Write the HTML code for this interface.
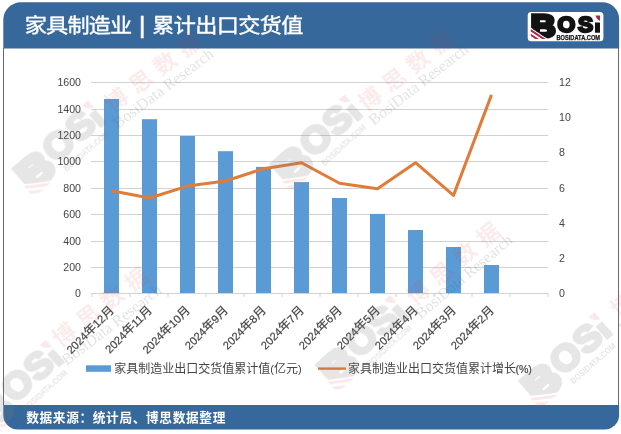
<!DOCTYPE html>
<html lang="zh-CN"><head><meta charset="utf-8"><title>家具制造业 | 累计出口交货值</title>
<style>html,body{margin:0;padding:0;background:#fff;}body{width:621px;height:434px;overflow:hidden;}svg{display:block;}text{font-family:"Liberation Sans","Noto Sans CJK SC",sans-serif;}.cj{font-family:"Liberation Sans","Noto Sans CJK SC",sans-serif;}.sf{font-family:"Liberation Serif","Noto Serif CJK SC",serif;}.ax{font-size:10.6px;fill:#454545;}.lg{font-size:12px;fill:#454545;}</style></head><body>
<svg width="621" height="434" viewBox="0 0 621 434">
<rect x="0" y="0" width="621" height="434" fill="#ffffff"/>
<path d="M3.5 48 V405 M618.5 48 V405" stroke="#666b70" stroke-width="1" fill="none"/>
<path d="M3.3 48.4 V19.8 A17.5 17.5 0 0 1 20.8 2.3 H602.6 A16.5 16.5 0 0 1 619.1 18.8 V48.4 Z" fill="#36689c"/>
<path d="M3.3 405 H619.1 V415 A14.5 14.5 0 0 1 604.6 429.5 H17.8 A14.5 14.5 0 0 1 3.3 415 Z" fill="#36689c"/>
<g fill="#ffffff" stroke="#ffffff" stroke-width="0.4" font-size="21.33px">
<text transform="translate(24.8 33) scale(1.04 0.935)" class="cj" letter-spacing="-0.82">家具制造业</text>
<text transform="translate(142.2 32.6)" text-anchor="middle" font-size="24.5px" stroke-width="0.7">|</text>
<text transform="translate(152.3 33) scale(1.04 0.935)" class="cj" letter-spacing="-0.64">累计出口交货值</text>
</g>
<text x="26.2" y="422.3" font-size="12.7px" letter-spacing="0.63" font-weight="bold" fill="#ffffff" class="cj">数据来源：统计局、博思数据整理</text>
<g id="logo" transform="translate(527.5 11.5)">
<rect x="0.2" y="0.5" width="75.7" height="29.2" rx="3.5" fill="#ffffff"/>
<clipPath id="c0"><path d="M-5 -8 H66.5 V11.1 H82 V40 H21.7 V28.5 L-5 10.6 Z"/></clipPath>
<g clip-path="url(#c0)"><g fill="#121212" stroke="#121212" stroke-linejoin="miter" font-weight="bold">
<text transform="translate(3.30 25.76) scale(1.11 1)" font-size="31.0px" stroke-width="3.60">B</text>
<text transform="translate(29.90 20.10) scale(1.06 1)" font-size="21.5px" stroke-width="2.40">O</text>
<text transform="translate(50.48 20.10) scale(1.05 1)" font-size="21.5px" stroke-width="2.40">S</text>
<text transform="translate(67.02 20.70) scale(1.29 1)" font-size="16.7px" stroke-width="1.60">i</text>
<text x="29" y="28.1" font-size="6.5px" stroke-width="0.25" textLength="43.5" lengthAdjust="spacingAndGlyphs">BOSIDATA.COM</text>
</g></g>
<path d="M3.3 17.6 L18.25 27.6 H14.66 L3.3 20 Z M3.3 22.2 L11.37 27.6 H7.78 L3.3 24.6 Z" fill="#b02848"/>
<path d="M67.8 4 H72.5 V9.4 Q69 8 67.8 4 Z" fill="#b02848"/>
</g>
<line x1="91.0" y1="267.50" x2="548.4" y2="267.50" stroke="#d2d2d2" stroke-width="1"/>
<line x1="91.0" y1="241.50" x2="548.4" y2="241.50" stroke="#d2d2d2" stroke-width="1"/>
<line x1="91.0" y1="214.50" x2="548.4" y2="214.50" stroke="#d2d2d2" stroke-width="1"/>
<line x1="91.0" y1="188.50" x2="548.4" y2="188.50" stroke="#d2d2d2" stroke-width="1"/>
<line x1="91.0" y1="161.50" x2="548.4" y2="161.50" stroke="#d2d2d2" stroke-width="1"/>
<line x1="91.0" y1="135.50" x2="548.4" y2="135.50" stroke="#d2d2d2" stroke-width="1"/>
<line x1="91.0" y1="109.50" x2="548.4" y2="109.50" stroke="#d2d2d2" stroke-width="1"/>
<line x1="91.0" y1="82.50" x2="548.4" y2="82.50" stroke="#d2d2d2" stroke-width="1"/>
<rect x="104.00" y="99.00" width="15.00" height="194.50" fill="#5b9bd5"/>
<rect x="142.00" y="119.20" width="15.00" height="174.30" fill="#5b9bd5"/>
<rect x="180.00" y="136.00" width="15.00" height="157.50" fill="#5b9bd5"/>
<rect x="218.00" y="151.20" width="15.00" height="142.30" fill="#5b9bd5"/>
<rect x="256.00" y="166.90" width="15.00" height="126.60" fill="#5b9bd5"/>
<rect x="294.00" y="182.10" width="15.00" height="111.40" fill="#5b9bd5"/>
<rect x="332.00" y="198.00" width="15.00" height="95.50" fill="#5b9bd5"/>
<rect x="370.00" y="213.90" width="15.00" height="79.60" fill="#5b9bd5"/>
<rect x="408.00" y="230.00" width="15.00" height="63.50" fill="#5b9bd5"/>
<rect x="446.00" y="247.00" width="15.00" height="46.50" fill="#5b9bd5"/>
<rect x="484.00" y="265.00" width="15.00" height="28.50" fill="#5b9bd5"/>
<line x1="91.0" y1="293.50" x2="548.4" y2="293.50" stroke="#d2d2d2" stroke-width="1"/>
<line x1="92.00" y1="293.50" x2="92.00" y2="297.00" stroke="#d2d2d2" stroke-width="1"/>
<line x1="130.00" y1="293.50" x2="130.00" y2="297.00" stroke="#d2d2d2" stroke-width="1"/>
<line x1="168.00" y1="293.50" x2="168.00" y2="297.00" stroke="#d2d2d2" stroke-width="1"/>
<line x1="206.00" y1="293.50" x2="206.00" y2="297.00" stroke="#d2d2d2" stroke-width="1"/>
<line x1="244.00" y1="293.50" x2="244.00" y2="297.00" stroke="#d2d2d2" stroke-width="1"/>
<line x1="282.00" y1="293.50" x2="282.00" y2="297.00" stroke="#d2d2d2" stroke-width="1"/>
<line x1="320.00" y1="293.50" x2="320.00" y2="297.00" stroke="#d2d2d2" stroke-width="1"/>
<line x1="358.00" y1="293.50" x2="358.00" y2="297.00" stroke="#d2d2d2" stroke-width="1"/>
<line x1="396.00" y1="293.50" x2="396.00" y2="297.00" stroke="#d2d2d2" stroke-width="1"/>
<line x1="434.00" y1="293.50" x2="434.00" y2="297.00" stroke="#d2d2d2" stroke-width="1"/>
<line x1="472.00" y1="293.50" x2="472.00" y2="297.00" stroke="#d2d2d2" stroke-width="1"/>
<line x1="510.00" y1="293.50" x2="510.00" y2="297.00" stroke="#d2d2d2" stroke-width="1"/>
<line x1="548.00" y1="293.50" x2="548.00" y2="297.00" stroke="#d2d2d2" stroke-width="1"/>
<polyline points="111.50,190.80 149.50,198.00 187.50,186.10 225.50,181.00 263.50,168.70 301.50,162.80 339.50,183.20 377.50,188.70 415.50,162.70 453.50,195.40 491.50,94.90" fill="none" stroke="#e07c39" stroke-width="3" stroke-linejoin="round" stroke-linecap="butt"/>
<text x="81" y="297.40" text-anchor="end" class="ax">0</text>
<text x="81" y="271.01" text-anchor="end" class="ax">200</text>
<text x="81" y="244.62" text-anchor="end" class="ax">400</text>
<text x="81" y="218.24" text-anchor="end" class="ax">600</text>
<text x="81" y="191.85" text-anchor="end" class="ax">800</text>
<text x="81" y="165.46" text-anchor="end" class="ax">1000</text>
<text x="81" y="139.08" text-anchor="end" class="ax">1200</text>
<text x="81" y="112.69" text-anchor="end" class="ax">1400</text>
<text x="81" y="86.30" text-anchor="end" class="ax">1600</text>
<text x="559" y="297.20" class="ax">0</text>
<text x="559" y="262.02" class="ax">2</text>
<text x="559" y="226.83" class="ax">4</text>
<text x="559" y="191.65" class="ax">6</text>
<text x="559" y="156.47" class="ax">8</text>
<text x="559" y="121.28" class="ax">10</text>
<text x="559" y="86.10" class="ax">12</text>
<text transform="translate(114.70 311.00) rotate(-45)" text-anchor="end" fill="#454545" stroke="#454545" stroke-width="0.2"><tspan font-size="11.2px">2024</tspan><tspan font-size="12.1px" class="cj">年</tspan><tspan font-size="11.2px">12</tspan><tspan font-size="12.1px" class="cj">月</tspan></text>
<text transform="translate(152.70 311.00) rotate(-45)" text-anchor="end" fill="#454545" stroke="#454545" stroke-width="0.2"><tspan font-size="11.2px">2024</tspan><tspan font-size="12.1px" class="cj">年</tspan><tspan font-size="11.2px">11</tspan><tspan font-size="12.1px" class="cj">月</tspan></text>
<text transform="translate(190.70 311.00) rotate(-45)" text-anchor="end" fill="#454545" stroke="#454545" stroke-width="0.2"><tspan font-size="11.2px">2024</tspan><tspan font-size="12.1px" class="cj">年</tspan><tspan font-size="11.2px">10</tspan><tspan font-size="12.1px" class="cj">月</tspan></text>
<text transform="translate(228.70 311.00) rotate(-45)" text-anchor="end" fill="#454545" stroke="#454545" stroke-width="0.2"><tspan font-size="11.2px">2024</tspan><tspan font-size="12.1px" class="cj">年</tspan><tspan font-size="11.2px">9</tspan><tspan font-size="12.1px" class="cj">月</tspan></text>
<text transform="translate(266.70 311.00) rotate(-45)" text-anchor="end" fill="#454545" stroke="#454545" stroke-width="0.2"><tspan font-size="11.2px">2024</tspan><tspan font-size="12.1px" class="cj">年</tspan><tspan font-size="11.2px">8</tspan><tspan font-size="12.1px" class="cj">月</tspan></text>
<text transform="translate(304.70 311.00) rotate(-45)" text-anchor="end" fill="#454545" stroke="#454545" stroke-width="0.2"><tspan font-size="11.2px">2024</tspan><tspan font-size="12.1px" class="cj">年</tspan><tspan font-size="11.2px">7</tspan><tspan font-size="12.1px" class="cj">月</tspan></text>
<text transform="translate(342.70 311.00) rotate(-45)" text-anchor="end" fill="#454545" stroke="#454545" stroke-width="0.2"><tspan font-size="11.2px">2024</tspan><tspan font-size="12.1px" class="cj">年</tspan><tspan font-size="11.2px">6</tspan><tspan font-size="12.1px" class="cj">月</tspan></text>
<text transform="translate(380.70 311.00) rotate(-45)" text-anchor="end" fill="#454545" stroke="#454545" stroke-width="0.2"><tspan font-size="11.2px">2024</tspan><tspan font-size="12.1px" class="cj">年</tspan><tspan font-size="11.2px">5</tspan><tspan font-size="12.1px" class="cj">月</tspan></text>
<text transform="translate(418.70 311.00) rotate(-45)" text-anchor="end" fill="#454545" stroke="#454545" stroke-width="0.2"><tspan font-size="11.2px">2024</tspan><tspan font-size="12.1px" class="cj">年</tspan><tspan font-size="11.2px">4</tspan><tspan font-size="12.1px" class="cj">月</tspan></text>
<text transform="translate(456.70 311.00) rotate(-45)" text-anchor="end" fill="#454545" stroke="#454545" stroke-width="0.2"><tspan font-size="11.2px">2024</tspan><tspan font-size="12.1px" class="cj">年</tspan><tspan font-size="11.2px">3</tspan><tspan font-size="12.1px" class="cj">月</tspan></text>
<text transform="translate(494.70 311.00) rotate(-45)" text-anchor="end" fill="#454545" stroke="#454545" stroke-width="0.2"><tspan font-size="11.2px">2024</tspan><tspan font-size="12.1px" class="cj">年</tspan><tspan font-size="11.2px">2</tspan><tspan font-size="12.1px" class="cj">月</tspan></text>
<rect x="86" y="365.3" width="25" height="6.5" fill="#5b9bd5"/>
<text x="114.3" y="372.8" class="lg cj">家具制造业出口交货值累计值<tspan font-family="Liberation Sans" font-size="11px">(</tspan>亿元<tspan font-family="Liberation Sans" font-size="11px">)</tspan></text>
<line x1="318" y1="368.6" x2="346" y2="368.6" stroke="#e07c39" stroke-width="2.4"/>
<text x="348" y="372.8" class="lg cj">家具制造业出口交货值累计增长<tspan font-family="Liberation Sans" font-size="10.6px" dx="-0.6" stroke="#454545" stroke-width="0.2">(%)</tspan></text>
<g opacity="0.19">
<g transform="translate(2.8 169.3) rotate(-41.0) scale(1.50)">
<clipPath id="c1"><path d="M-5 -8 H66.5 V10.4 H82 V40 H21.7 V28.5 L-5 10.6 Z"/></clipPath>
<g clip-path="url(#c1)"><g fill="#7a7a7a" stroke="#7a7a7a" stroke-linejoin="miter" font-weight="bold">
<text transform="translate(4.54 24.73) scale(1.11 1)" font-size="28.0px" stroke-width="3.96">B</text>
<text transform="translate(28.87 20.96) scale(1.06 1)" font-size="24.0px" stroke-width="2.09">O</text>
<text transform="translate(49.62 20.96) scale(1.05 1)" font-size="24.0px" stroke-width="2.09">S</text>
<text transform="translate(66.71 21.21) scale(1.29 1)" font-size="18.4px" stroke-width="1.76">i</text>
<text x="31" y="29.6" font-size="5.8px" stroke-width="0" textLength="38" lengthAdjust="spacingAndGlyphs">BOSIDATA.COM</text>
</g></g>
<path d="M3.3 17.6 L18.25 27.6 H14.66 L3.3 20 Z M3.3 22.2 L11.37 27.6 H7.78 L3.3 24.6 Z" fill="#e58a8a"/>
<path d="M67.6 2.6 H73 V8.6 Q69 7.4 67.6 2.6 Z" fill="#e58a8a"/>
</g>
<text transform="translate(112.4 113.1) rotate(-37.0) scale(1.45)" font-size="15.5px" font-weight="bold" fill="#d83a3a" fill-opacity="0.52" class="cj" letter-spacing="5.5">博思数据</text>
<text transform="translate(118.0 128.9) rotate(-37.0) scale(1.45)" font-size="11px" fill="#505050" fill-opacity="0.85" class="sf" textLength="83.5" lengthAdjust="spacing">BosiData Research</text>
</g>
<g opacity="0.19">
<g transform="translate(260.5 164.8) rotate(-42.0) scale(1.50)">
<clipPath id="c2"><path d="M-5 -8 H66.5 V10.4 H82 V40 H21.7 V28.5 L-5 10.6 Z"/></clipPath>
<g clip-path="url(#c2)"><g fill="#7a7a7a" stroke="#7a7a7a" stroke-linejoin="miter" font-weight="bold">
<text transform="translate(4.54 24.73) scale(1.11 1)" font-size="28.0px" stroke-width="3.96">B</text>
<text transform="translate(28.87 20.96) scale(1.06 1)" font-size="24.0px" stroke-width="2.09">O</text>
<text transform="translate(49.62 20.96) scale(1.05 1)" font-size="24.0px" stroke-width="2.09">S</text>
<text transform="translate(66.71 21.21) scale(1.29 1)" font-size="18.4px" stroke-width="1.76">i</text>
<text x="31" y="29.6" font-size="5.8px" stroke-width="0" textLength="38" lengthAdjust="spacingAndGlyphs">BOSIDATA.COM</text>
</g></g>
<path d="M3.3 17.6 L18.25 27.6 H14.66 L3.3 20 Z M3.3 22.2 L11.37 27.6 H7.78 L3.3 24.6 Z" fill="#e58a8a"/>
<path d="M67.6 2.6 H73 V8.6 Q69 7.4 67.6 2.6 Z" fill="#e58a8a"/>
</g>
<text transform="translate(366.2 111.9) rotate(-38.0) scale(1.45)" font-size="15.5px" font-weight="bold" fill="#d83a3a" fill-opacity="0.52" class="cj" letter-spacing="5.5">博思数据</text>
<text transform="translate(373.8 125.8) rotate(-38.0) scale(1.45)" font-size="11px" fill="#505050" fill-opacity="0.85" class="sf" textLength="83.5" lengthAdjust="spacing">BosiData Research</text>
</g>
<g opacity="0.19">
<g transform="translate(-38.2 410.3) rotate(-42.0) scale(1.50)">
<clipPath id="c3"><path d="M-5 -8 H66.5 V10.4 H82 V40 H21.7 V28.5 L-5 10.6 Z"/></clipPath>
<g clip-path="url(#c3)"><g fill="#7a7a7a" stroke="#7a7a7a" stroke-linejoin="miter" font-weight="bold">
<text transform="translate(4.54 24.73) scale(1.11 1)" font-size="28.0px" stroke-width="3.96">B</text>
<text transform="translate(28.87 20.96) scale(1.06 1)" font-size="24.0px" stroke-width="2.09">O</text>
<text transform="translate(49.62 20.96) scale(1.05 1)" font-size="24.0px" stroke-width="2.09">S</text>
<text transform="translate(66.71 21.21) scale(1.29 1)" font-size="18.4px" stroke-width="1.76">i</text>
<text x="31" y="29.6" font-size="5.8px" stroke-width="0" textLength="38" lengthAdjust="spacingAndGlyphs">BOSIDATA.COM</text>
</g></g>
<path d="M3.3 17.6 L18.25 27.6 H14.66 L3.3 20 Z M3.3 22.2 L11.37 27.6 H7.78 L3.3 24.6 Z" fill="#e58a8a"/>
<path d="M67.6 2.6 H73 V8.6 Q69 7.4 67.6 2.6 Z" fill="#e58a8a"/>
</g>
<text transform="translate(60.2 348.0) rotate(-37.5) scale(1.45)" font-size="15.5px" font-weight="bold" fill="#d83a3a" fill-opacity="0.52" class="cj" letter-spacing="5.5">博思数据</text>
<text transform="translate(66.8 365.8) rotate(-37.5) scale(1.45)" font-size="11px" fill="#505050" fill-opacity="0.85" class="sf" textLength="83.5" lengthAdjust="spacing">BosiData Research</text>
</g>
<g opacity="0.19">
<g transform="translate(306.1 365.4) rotate(-42.0) scale(1.50)">
<clipPath id="c4"><path d="M-5 -8 H66.5 V10.4 H82 V40 H21.7 V28.5 L-5 10.6 Z"/></clipPath>
<g clip-path="url(#c4)"><g fill="#7a7a7a" stroke="#7a7a7a" stroke-linejoin="miter" font-weight="bold">
<text transform="translate(4.54 24.73) scale(1.11 1)" font-size="28.0px" stroke-width="3.96">B</text>
<text transform="translate(28.87 20.96) scale(1.06 1)" font-size="24.0px" stroke-width="2.09">O</text>
<text transform="translate(49.62 20.96) scale(1.05 1)" font-size="24.0px" stroke-width="2.09">S</text>
<text transform="translate(66.71 21.21) scale(1.29 1)" font-size="18.4px" stroke-width="1.76">i</text>
<text x="31" y="29.6" font-size="5.8px" stroke-width="0" textLength="38" lengthAdjust="spacingAndGlyphs">BOSIDATA.COM</text>
</g></g>
<path d="M3.3 17.6 L18.25 27.6 H14.66 L3.3 20 Z M3.3 22.2 L11.37 27.6 H7.78 L3.3 24.6 Z" fill="#e58a8a"/>
<path d="M67.6 2.6 H73 V8.6 Q69 7.4 67.6 2.6 Z" fill="#e58a8a"/>
</g>
<text transform="translate(415.0 306.5) rotate(-40.0) scale(1.45)" font-size="15.5px" font-weight="bold" fill="#d83a3a" fill-opacity="0.52" class="cj" letter-spacing="5.5">博思数据</text>
<text transform="translate(420.8 319.5) rotate(-40.0) scale(1.45)" font-size="11px" fill="#505050" fill-opacity="0.85" class="sf" textLength="83.5" lengthAdjust="spacing">BosiData Research</text>
</g>
<g opacity="0.19">
<g transform="translate(509.3 381.2) rotate(-41.0) scale(1.50)">
<clipPath id="c5"><path d="M-5 -8 H66.5 V10.4 H82 V40 H21.7 V28.5 L-5 10.6 Z"/></clipPath>
<g clip-path="url(#c5)"><g fill="#7a7a7a" stroke="#7a7a7a" stroke-linejoin="miter" font-weight="bold">
<text transform="translate(4.54 24.73) scale(1.11 1)" font-size="28.0px" stroke-width="3.96">B</text>
<text transform="translate(28.87 20.96) scale(1.06 1)" font-size="24.0px" stroke-width="2.09">O</text>
<text transform="translate(49.62 20.96) scale(1.05 1)" font-size="24.0px" stroke-width="2.09">S</text>
<text transform="translate(66.71 21.21) scale(1.29 1)" font-size="18.4px" stroke-width="1.76">i</text>
<text x="31" y="29.6" font-size="5.8px" stroke-width="0" textLength="38" lengthAdjust="spacingAndGlyphs">BOSIDATA.COM</text>
</g></g>
<path d="M3.3 17.6 L18.25 27.6 H14.66 L3.3 20 Z M3.3 22.2 L11.37 27.6 H7.78 L3.3 24.6 Z" fill="#e58a8a"/>
<path d="M67.6 2.6 H73 V8.6 Q69 7.4 67.6 2.6 Z" fill="#e58a8a"/>
</g>
<text transform="translate(618.5 318.3) rotate(-38.0) scale(1.45)" font-size="15.5px" font-weight="bold" fill="#d83a3a" fill-opacity="0.52" class="cj" letter-spacing="5.5">博思数据</text>
<text transform="translate(624.1 334.1) rotate(-38.0) scale(1.45)" font-size="11px" fill="#505050" fill-opacity="0.85" class="sf" textLength="83.5" lengthAdjust="spacing">BosiData Research</text>
</g>
</svg></body></html>
